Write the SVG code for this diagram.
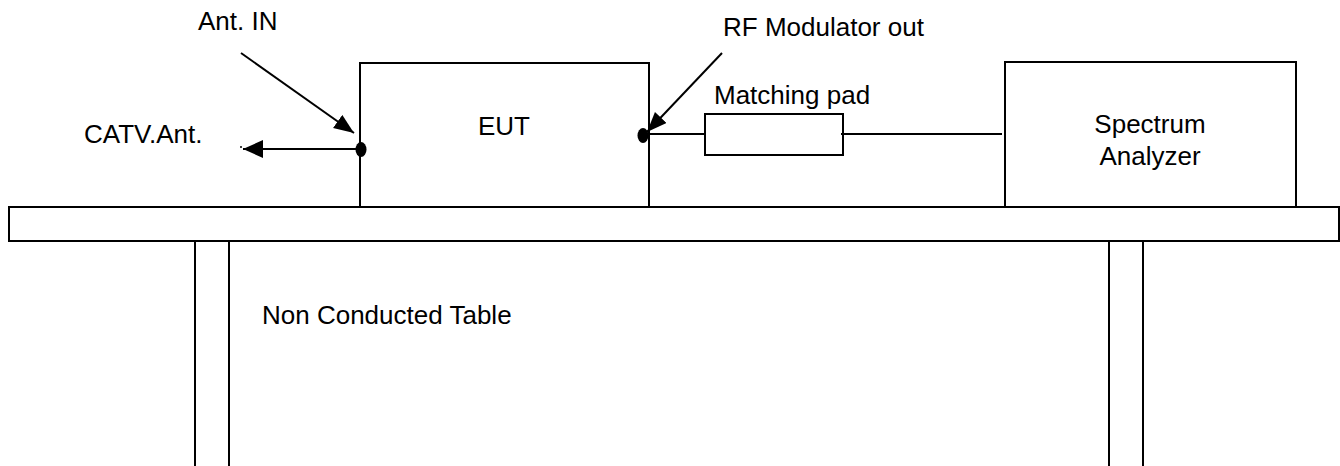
<svg xmlns="http://www.w3.org/2000/svg" width="1340" height="466" viewBox="0 0 1340 466">
<style>
.s{fill:none;stroke:#000;stroke-width:2}
.t{font-family:"Liberation Sans",Arial,sans-serif;font-size:26px;fill:#000}
</style>
<defs>
<marker id="ah" markerWidth="22" markerHeight="18" refX="20" refY="8" orient="auto" markerUnits="userSpaceOnUse">
<path d="M0,0 L20,8 L0,16 Z" fill="#000"/>
</marker>
<marker id="ah2" markerWidth="22" markerHeight="20" refX="20" refY="9" orient="auto" markerUnits="userSpaceOnUse">
<path d="M0,0 L20,9 L0,18 Z" fill="#000"/>
</marker>
</defs>
<rect width="1340" height="466" fill="#fff"/>
<g id="table">
<rect class="s" x="9" y="207" width="1330" height="34"/>
<path class="s" d="M195,241V466M229,241V466M1109,241V466M1143,241V466"/>
<text class="t" x="262" y="324">Non Conducted Table</text>
</g>
<g id="eut">
<path class="s" d="M360,207V63H649V207"/>
<text class="t" x="504" y="135" text-anchor="middle">EUT</text>
</g>
<g id="pad">
<rect class="s" x="705" y="114" width="138" height="41"/>
<text class="t" x="714" y="104">Matching pad</text>
</g>
<g id="analyzer">
<path class="s" d="M1005,207V62H1296V207"/>
<text class="t" x="1150" y="133" text-anchor="middle">Spectrum</text>
<text class="t" x="1150" y="165" text-anchor="middle">Analyzer</text>
</g>
<g id="labels">
<text class="t" x="198" y="30">Ant. IN</text>
<text class="t" x="84" y="143">CATV.Ant.</text>
<text class="t" x="723" y="36">RF Modulator out</text>
</g>
<g id="connectors">
<path class="s" d="M241,53L354,133" marker-end="url(#ah)"/>
<path class="s" d="M722,53L647,132" marker-end="url(#ah)"/>
<path class="s" d="M361,149H243" marker-end="url(#ah2)"/>
<circle cx="241" cy="147" r="1" fill="#000"/>
<path class="s" d="M649,134H705M841,134H1002"/>
<ellipse cx="361" cy="149.5" rx="5.5" ry="7.5" fill="#000"/>
<ellipse cx="643" cy="135.5" rx="5.5" ry="7.5" fill="#000"/>
</g>
</svg>
